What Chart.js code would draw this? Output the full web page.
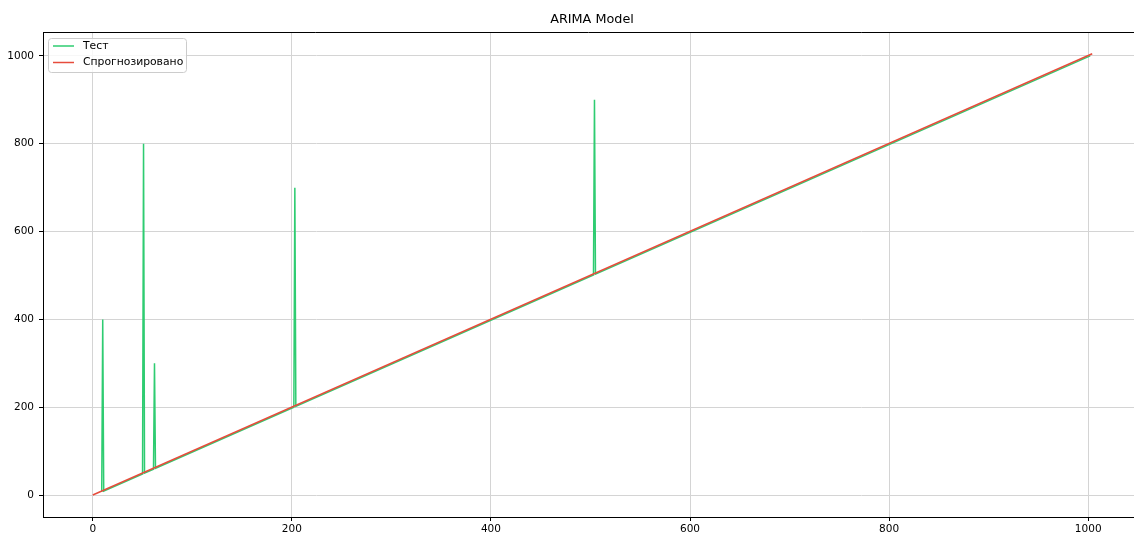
<!DOCTYPE html>
<html>
<head>
<meta charset="utf-8">
<title>ARIMA Model</title>
<script src="https://cdn.jsdelivr.net/npm/chart.js@4/dist/chart.umd.min.js"></script>
<style>
  html, body { margin: 0; padding: 0; background: #fff; }
  #wrap { width: 1134px; height: 533px; }
</style>
</head>
<body>
<div id="wrap"><canvas id="c" width="1134" height="533"></canvas></div>
<script>
// Test series: a rising line with isolated spikes
const testX = [9, 10, 11, 50, 51, 52, 61, 62, 63, 202, 203, 204, 503, 504, 505, 1002];
const testY = [7, 400, 9, 48, 800, 50, 59, 300, 61, 200, 700, 202, 501, 900, 503, 1000];

// Forecast series
const predX = [0, 1004];
const predY = [0, 1005];

// Axis ticks
const xTicks = [0, 200, 400, 600, 800, 1000];
const yTicks = [0, 200, 400, 600, 800, 1000];

const seriesLabels = ['Тест', 'Спрогнозировано'];
const FONT = '"DejaVu Sans", sans-serif';

const toPoints = (xs, ys) => xs.map((x, i) => ({ x, y: ys[i] }));

const frameAndText = {
  id: 'frameAndText',
  afterDraw(chart) {
    const ctx = chart.ctx;
    const a = chart.chartArea;
    ctx.save();
    // top spine
    ctx.strokeStyle = '#000';
    ctx.lineWidth = 1;
    ctx.beginPath();
    ctx.moveTo(a.left, a.top + 0.5);
    ctx.lineTo(a.right, a.top + 0.5);
    ctx.stroke();

    // title
    ctx.fillStyle = '#000';
    ctx.font = '12.8px ' + FONT;
    ctx.textAlign = 'center';
    ctx.textBaseline = 'middle';
    ctx.fillText('ARIMA Model', 592, 20);

    // legend
    const bx = 48.5, by = 38.5, bw = 138, bh = 34, r = 3;
    ctx.beginPath();
    ctx.moveTo(bx + r, by);
    ctx.lineTo(bx + bw - r, by);
    ctx.quadraticCurveTo(bx + bw, by, bx + bw, by + r);
    ctx.lineTo(bx + bw, by + bh - r);
    ctx.quadraticCurveTo(bx + bw, by + bh, bx + bw - r, by + bh);
    ctx.lineTo(bx + r, by + bh);
    ctx.quadraticCurveTo(bx, by + bh, bx, by + bh - r);
    ctx.lineTo(bx, by + r);
    ctx.quadraticCurveTo(bx, by, bx + r, by);
    ctx.closePath();
    ctx.fillStyle = 'rgba(255,255,255,0.8)';
    ctx.fill();
    ctx.strokeStyle = '#cccccc';
    ctx.stroke();

    ctx.font = '10.8px ' + FONT;
    ctx.textAlign = 'left';
    ctx.textBaseline = 'middle';
    chart.data.datasets.forEach((ds, i) => {
      const y = 46 + i * 16.5;
      ctx.strokeStyle = ds.borderColor;
      ctx.lineWidth = 1.5;
      ctx.beginPath();
      ctx.moveTo(53, y);
      ctx.lineTo(74, y);
      ctx.stroke();
      ctx.fillStyle = '#000';
      ctx.fillText(ds.label, 83, y);
    });
    ctx.restore();
  }
};

new Chart(document.getElementById('c'), {
  type: 'line',
  data: {
    datasets: [
      {
        label: seriesLabels[0],
        data: toPoints(testX, testY),
        borderColor: '#2ecc71',
        borderWidth: 1.5,
        pointRadius: 0,
        tension: 0,
        order: 1
      },
      {
        label: seriesLabels[1],
        data: toPoints(predX, predY),
        borderColor: '#e74c3c',
        borderWidth: 1.5,
        pointRadius: 0,
        tension: 0,
        order: 0
      }
    ]
  },
  options: {
    responsive: false,
    animation: false,
    devicePixelRatio: 1,
    layout: { padding: { top: 32, left: 0, right: 0, bottom: 0 } },
    plugins: {
      legend: { display: false },
      title: { display: false },
      tooltip: { enabled: false }
    },
    scales: {
      x: {
        type: 'linear',
        min: -50,
        max: 1046,
        afterBuildTicks: s => { s.ticks = xTicks.map(v => ({ value: v })); },
        afterFit: s => { s.height = 16; },
        grid: { color: '#d4d4d4', lineWidth: 1, tickColor: '#000', tickLength: 4, drawTicks: true },
        border: { color: '#000', width: 1 },
        ticks: { color: '#000', font: { family: FONT, size: 10.5 }, padding: 2, maxRotation: 0, autoSkip: false,
                 callback: v => String(v) }
      },
      y: {
        type: 'linear',
        min: -50,
        max: 1054.5,
        afterBuildTicks: s => { s.ticks = yTicks.map(v => ({ value: v })); },
        afterFit: s => { s.width = 43; },
        grid: { color: '#d4d4d4', lineWidth: 1, tickColor: '#000', tickLength: 4, drawTicks: true },
        border: { color: '#000', width: 1 },
        ticks: { color: '#000', font: { family: FONT, size: 10.5 }, padding: 5, autoSkip: false,
                 callback: v => String(v) }
      }
    }
  },
  plugins: [frameAndText]
});
</script>
</body>
</html>
